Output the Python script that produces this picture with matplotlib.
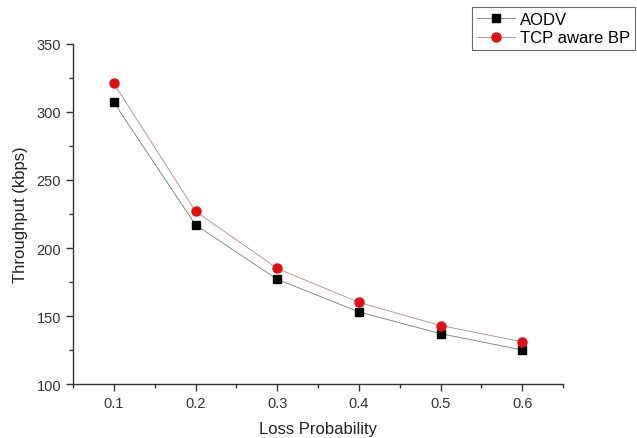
import matplotlib.pyplot as plt
from matplotlib.ticker import MultipleLocator

loss_prob = [0.1, 0.2, 0.3, 0.4, 0.5, 0.6]
aodv = [307, 217, 177, 153, 137, 125]
tcp_bp = [321, 227, 185, 160, 143, 131]

plt.rcParams['font.family'] = ['Liberation Sans', 'DejaVu Sans']

fig = plt.figure(figsize=(6.37, 4.39), dpi=100)
ax = fig.add_axes([0.1146, 0.123, 0.884 - 0.1146, 0.8975 - 0.123])

ax.plot(loss_prob, aodv, color='#777777', lw=0.6, marker='s', ms=5.5,
        mfc='black', mec='black', label='AODV')
ax.plot(loss_prob, tcp_bp, color='#c08080', lw=0.6, marker='o', ms=6.5,
        mfc='#e01010', mec='#e01010', label='TCP aware BP')

ax.set_xlim(0.05, 0.65)
ax.set_ylim(100, 350)
ax.xaxis.set_major_locator(MultipleLocator(0.1))
ax.xaxis.set_minor_locator(MultipleLocator(0.05))
ax.yaxis.set_major_locator(MultipleLocator(50))
ax.yaxis.set_minor_locator(MultipleLocator(25))
ax.set_xticklabels([], minor=True)
ax.xaxis.set_major_formatter(plt.FuncFormatter(lambda v, p: f'{v:.1f}'))

for s in ['top', 'right']:
    ax.spines[s].set_visible(False)
for s in ['left', 'bottom']:
    ax.spines[s].set_color('#333333')
    ax.spines[s].set_linewidth(1.0)

ax.tick_params(which='major', length=5, width=1, color='#333333', labelsize=10.5, labelcolor='#333333')
ax.tick_params(which='minor', length=3, width=1, color='#333333')

ax.set_xlabel('Loss Probability', fontsize=12, color='#222222', labelpad=8)
ax.set_ylabel('Throughput (kbps)', fontsize=12, color='#222222', labelpad=6)

leg = fig.legend(loc='upper left', bbox_to_anchor=(472 / 637, 1 - 8 / 439),
                 frameon=True, fancybox=False, fontsize=12, handlelength=2.3,
                 borderpad=0.3, labelspacing=0.2, handletextpad=0.3, borderaxespad=0)
leg.get_frame().set_edgecolor('#444444')
leg.get_frame().set_linewidth(0.8)

fig.savefig('out.png', dpi=100)
